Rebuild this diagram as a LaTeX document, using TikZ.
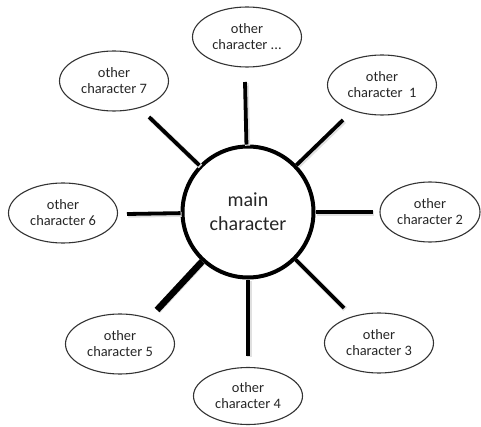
\documentclass[tikz,border=0pt]{standalone}
\usepackage{fontspec}
\setmainfont{Carlito}
\usetikzlibrary{shapes.geometric}
\begin{document}
\begin{tikzpicture}[x=1pt,y=-1pt,
		other/.style={ellipse, draw=black!80, line width=1.1pt, minimum width=109pt, minimum height=60pt, inner sep=0pt, align=center, text=black!85, font=\fontsize{14.4}{16}\selectfont},
		spoke/.style={line width=3.8pt, preaction={draw=black!12, line width=5pt, transform canvas={shift={(1.2pt,-1.2pt)}}}}]
	\useasboundingbox (0,0) rectangle (481,427);
	\node[circle, draw, line width=4pt, minimum size=131pt, inner sep=0pt, align=center, text=black!85, font=\fontsize{20}{24}\selectfont] (main) at (248,212) {main\\character};
	\node[other] (oth8) at (247,37) {other\\character ...};
	\node[other] (oth7) at (114,81) {other\\character 7};
	\node[other] (oth1) at (382,85) {other\\character\ \ 1};
	\node[other] (oth6) at (63,213) {other\\character 6};
	\node[other, minimum width=100pt] (oth2) at (430,212) {other\\character 2};
	\node[other] (oth5) at (120,344) {other\\character 5};
	\node[other, minimum height=57pt] (oth4) at (248,396) {other\\character 4};
	\node[other] (oth3) at (379,343) {other\\character 3};
	% free ends of the spokes
	\coordinate (end8) at (245,82);
	\coordinate (end1) at (343,120);
	\coordinate (end2) at (373,212);
	\coordinate (end3) at (344,308);
	\coordinate (end4) at (248,356);
	\coordinate (end5) at (157,310);
	\coordinate (end6) at (127,214);
	\coordinate (end7) at (149,117);
	\draw[spoke] (main) -- (end8);
	\draw[spoke] (main) -- (end1);
	\draw[spoke] (main) -- (end2);
	\draw[spoke] (main) -- (end3);
	\draw[spoke] (main) -- (end4);
	\draw[spoke, line width=6.5pt] (main) -- (end5);
	\draw[spoke] (main) -- (end6);
	\draw[spoke] (main) -- (end7);
\end{tikzpicture}
\end{document}
